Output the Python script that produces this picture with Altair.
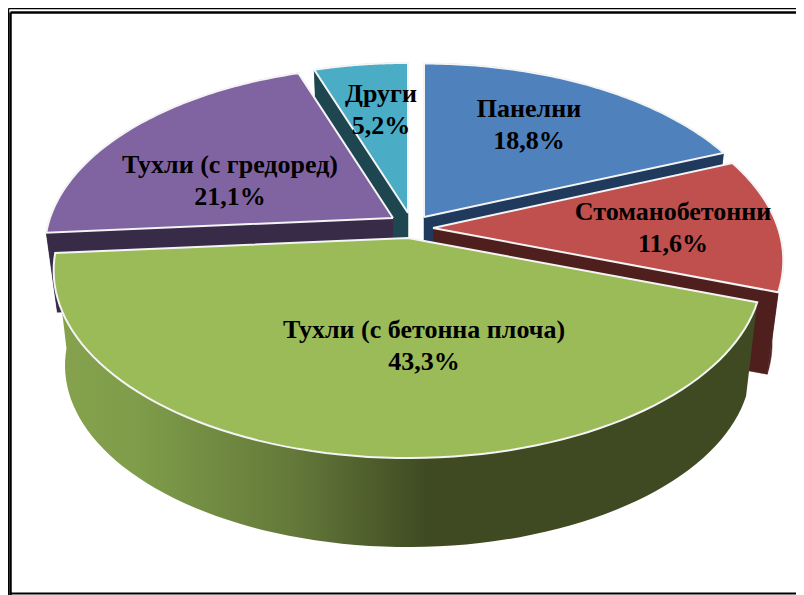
import math
import altair as alt

# --- chart values -------------------------------------------------------
names = ["Панелни", "Стоманобетонни", "Тухли (с бетонна плоча)", "Тухли (с гредоред)", "Други"]
shares = [18.8, 11.6, 43.3, 21.1, 5.2]
share_labels = ["18,8%", "11,6%", "43,3%", "21,1%", "5,2%"]

# --- styling ------------------------------------------------------------
top_colors = ["#4F81BD", "#C0504D", "#9BBB59", "#8064A2", "#4BACC6"]
wall_colors = ["#1F3A5C", "#4F1F1E", "#3F4E25", "#372B48", "#1E4650"]
apex_x = [424, 433, 408, 393, 408]
apex_y = [217, 228, 238, 218, 213]
radius_x = [345, 345, 349, 343, 340]
radius_y = [180, 182, 182, 178, 176]
depth = [80, 84, 96, 80, 80]
label_x = [529, 673, 424, 230, 381]
label_y = [109, 212, 330, 165, 94]
PERSP, SHRINK = 0.173, 0.968
W, H = 788, 587

X = alt.Scale(domain=[8, 8 + W], nice=False, zero=False)
Y = alt.Scale(domain=[8 + H, 8], nice=False, zero=False)


def rim(i, k, t):
    w = 1 + PERSP * math.cos(t)
    px = radius_x[i] * math.sin(t) / w
    py = -radius_y[i] * math.cos(t) / w
    if k:
        return apex_x[i] + SHRINK * px, apex_y[i] + SHRINK * py + depth[i]
    return apex_x[i] + px, apex_y[i] + py


def apex(i, k):
    return (apex_x[i], apex_y[i] + depth[i]) if k else (apex_x[i], apex_y[i])


def poly(points, **mark):
    rows = [{"x": p[0], "y": p[1], "o": n} for n, p in enumerate(points)]
    return alt.Chart(alt.Data(values=rows)).mark_line(filled=True, **mark).encode(
        x=alt.X("x:Q", scale=X, axis=None),
        y=alt.Y("y:Q", scale=Y, axis=None),
        order="o:Q",
    )


total = sum(shares)
starts = [sum(shares[:i]) / total * 2 * math.pi for i in range(len(shares))]
ends = [sum(shares[:i + 1]) / total * 2 * math.pi for i in range(len(shares))]


def arc(i, k, rev=False):
    n = 80
    pts = [rim(i, k, starts[i] + (ends[i] - starts[i]) * j / n) for j in range(n + 1)]
    return pts[::-1] if rev else pts


green_wall = alt.Gradient(
    gradient="linear", x1=0, x2=1, y1=0, y2=0,
    stops=[
        alt.GradientStop(offset=0, color="#86A24D"),
        alt.GradientStop(offset=0.115, color="#7F9D4A"),
        alt.GradientStop(offset=0.34, color="#64793A"),
        alt.GradientStop(offset=0.53, color="#3F4A22"),
        alt.GradientStop(offset=1, color="#3F4A22"),
    ],
)

layers = []
for i in [4, 0, 3, 1, 2]:
    if i == 2:
        layers.append(poly(arc(i, 0) + arc(i, 1, True), fill=green_wall, strokeWidth=0))
    else:
        c = wall_colors[i]
        layers.append(poly(arc(i, 0) + arc(i, 1, True), fill=c, stroke=c, strokeWidth=0.5))
        for t in (starts[i], ends[i]):
            layers.append(poly([apex(i, 0), rim(i, 0, t), rim(i, 1, t), apex(i, 1)],
                               fill=c, stroke=c, strokeWidth=0.5))
    top = [apex(i, 0)] + arc(i, 0) + [apex(i, 0)]
    layers.append(poly(top, fill=top_colors[i], stroke="#F4F4F4", strokeWidth=2))

labels = alt.Chart(alt.Data(values=[
    {"x": label_x[i], "y": label_y[i], "t": names[i]} for i in range(5)
] + [
    {"x": label_x[i], "y": label_y[i] + 32, "t": share_labels[i]} for i in range(5)
])).mark_text(font="Liberation Serif", fontWeight="bold", fontSize=26, color="#000000",
              align="center", baseline="middle").encode(
    x=alt.X("x:Q", scale=X, axis=None),
    y=alt.Y("y:Q", scale=Y, axis=None),
    text="t:N",
)


def frame(x1, y1, x2, y2, w):
    return alt.Chart(alt.Data(values=[{"a": 0}])).mark_rule(color="#000000", strokeWidth=w).encode(
        x=alt.value(x1), x2=alt.value(x2), y=alt.value(y1), y2=alt.value(y2))


frames = [
    frame(0.5, 0.5, W, 0.5, 1.5),
    frame(0.5, 0.5, 0.5, H, 1.5),
    frame(2.5, 4.5, W, 4.5, 2.5),
    frame(2.5, 4.5, 2.5, H, 2.5),
    frame(2.5, H - 1.5, W, H - 1.5, 2),
]

chart = alt.layer(*frames, *layers, labels).properties(
    width=W, height=H, padding=0,
    autosize=alt.AutoSizeParams(type="none"),
).configure_view(stroke=None)

chart.save("out.html", embed_options={"renderer": "svg", "actions": False})
